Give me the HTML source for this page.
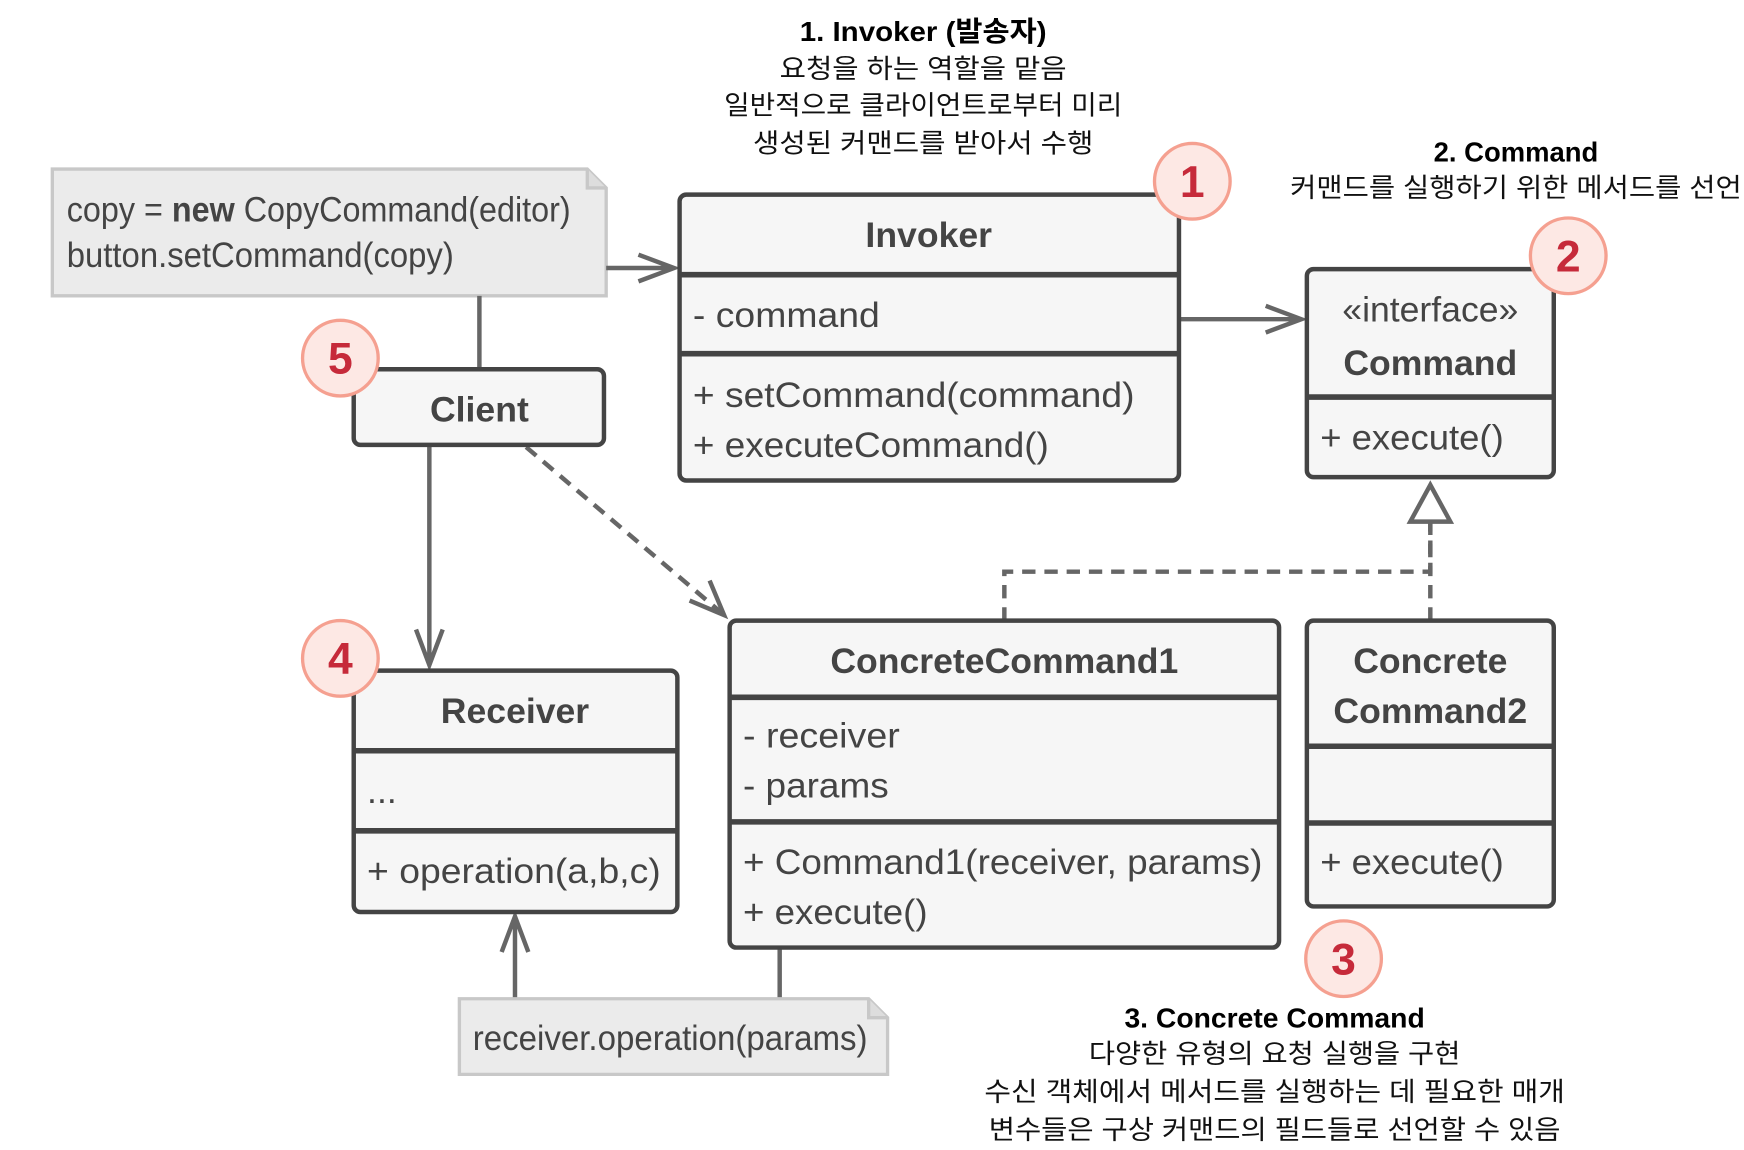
<!DOCTYPE html>
<html><head><meta charset="utf-8"><style>
html,body{margin:0;padding:0;background:#fff;width:1744px;height:1150px;overflow:hidden}
svg{display:block}
.t{font-family:"Liberation Sans Narrow","Liberation Sans",sans-serif;fill:#444;font-size:32px}
.b{font-weight:bold}
.k{font-family:"Liberation Sans","Noto Sans CJK KR",sans-serif;fill:#111;font-size:24px;text-anchor:middle}
.h{font-family:"Liberation Sans","Noto Sans CJK KR",sans-serif;fill:#000;font-size:25px;font-weight:bold;text-anchor:middle}
.box{fill:#f6f6f6;stroke:#444;stroke-width:4}
.sep{stroke:#444;stroke-width:5}
.ln{stroke:#666;stroke-width:4;fill:none}
.num{font-family:"Liberation Sans",sans-serif;font-weight:bold;font-size:40px;fill:#c62a3a;text-anchor:middle}
</style></head><body>
<svg width="1744" height="1150" viewBox="0 0 1568 1034" xmlns="http://www.w3.org/2000/svg">
<!-- top annotations -->
<text class="h" x="830" y="37" textLength="222" lengthAdjust="spacingAndGlyphs">1. Invoker (발송자)</text>
<text class="k" x="830" y="70" textLength="258" lengthAdjust="spacingAndGlyphs">요청을 하는 역할을 맡음</text>
<text class="k" x="830" y="103" textLength="358" lengthAdjust="spacingAndGlyphs">일반적으로 클라이언트로부터 미리</text>
<text class="k" x="830" y="137" textLength="306" lengthAdjust="spacingAndGlyphs">생성된 커맨드를 받아서 수행</text>
<text class="h" x="1363" y="145" textLength="148" lengthAdjust="spacingAndGlyphs">2. Command</text>
<text class="k" x="1363" y="177" textLength="406" lengthAdjust="spacingAndGlyphs">커맨드를 실행하기 위한 메서드를 선언</text>

<!-- note 1 -->
<path d="M47 152 H528 L545 169 V266 H47 Z" fill="#ebebeb" stroke="#c8c8c8" stroke-width="3"/>
<path d="M528 152 V169 H545" fill="#ddd" stroke="#c8c8c8" stroke-width="3"/>
<text class="t" x="60" y="199" font-size="30" textLength="453" lengthAdjust="spacingAndGlyphs">copy = <tspan class="b">new</tspan> CopyCommand(editor)</text>
<text class="t" x="60" y="240" font-size="30" textLength="348" lengthAdjust="spacingAndGlyphs">button.setCommand(copy)</text>

<!-- connectors -->
<path class="ln" d="M545 241 H606 M574 229 L606 241 L574 253"/>
<path class="ln" d="M1060 287 H1170 M1138 275 L1170 287 L1138 299"/>
<path class="ln" d="M431 266 V332"/>
<path class="ln" d="M386 400 V598 M374 566 L386 598 L398 566"/>
<path class="ln" d="M473 402 L651 553" stroke-dasharray="12 8"/>
<path class="ln" d="M620 540 L651 553 L638 522"/>
<path class="ln" d="M903 558 V514 H1286 V470" stroke-dasharray="12 8"/>
<path d="M1286 436 L1268 469 H1304 Z" fill="#fff" stroke="#666" stroke-width="4"/>
<path class="ln" d="M1286 558 V470" stroke-dasharray="12 8"/>
<path class="ln" d="M701 852 V898"/>
<path class="ln" d="M463 898 V824 M451 856 L463 824 L475 856"/>

<!-- Invoker -->
<rect class="box" x="611" y="175" width="449" height="257" rx="6"/>
<line class="sep" x1="611" y1="247" x2="1060" y2="247"/>
<line class="sep" x1="611" y1="318" x2="1060" y2="318"/>
<text class="t b" x="835" y="222" text-anchor="middle">Invoker</text>
<text class="t" x="623" y="294" textLength="168" lengthAdjust="spacingAndGlyphs">- command</text>
<text class="t" x="623" y="366" textLength="397" lengthAdjust="spacingAndGlyphs">+ setCommand(command)</text>
<text class="t" x="623" y="411" textLength="320" lengthAdjust="spacingAndGlyphs">+ executeCommand()</text>

<!-- Command -->
<rect class="box" x="1175" y="242" width="222" height="187" rx="6"/>
<line class="sep" x1="1175" y1="357" x2="1397" y2="357"/>
<text class="t" x="1286" y="289" text-anchor="middle">«interface»</text>
<text class="t b" x="1286" y="337" text-anchor="middle">Command</text>
<text class="t" x="1187" y="404" textLength="165" lengthAdjust="spacingAndGlyphs">+ execute()</text>

<!-- Client -->
<rect class="box" x="318" y="332" width="225" height="68" rx="6"/>
<text class="t b" x="431" y="379" text-anchor="middle">Client</text>

<!-- Receiver -->
<rect class="box" x="318" y="603" width="291" height="217" rx="6"/>
<line class="sep" x1="318" y1="675" x2="609" y2="675"/>
<line class="sep" x1="318" y1="747" x2="609" y2="747"/>
<text class="t b" x="463" y="650" text-anchor="middle">Receiver</text>
<text class="t" x="330" y="722">...</text>
<text class="t" x="330" y="794" textLength="264" lengthAdjust="spacingAndGlyphs">+ operation(a,b,c)</text>

<!-- ConcreteCommand1 -->
<rect class="box" x="656" y="558" width="494" height="294" rx="6"/>
<line class="sep" x1="656" y1="627" x2="1150" y2="627"/>
<line class="sep" x1="656" y1="739" x2="1150" y2="739"/>
<text class="t b" x="903" y="605" text-anchor="middle">ConcreteCommand1</text>
<text class="t" x="668" y="672" textLength="141" lengthAdjust="spacingAndGlyphs">- receiver</text>
<text class="t" x="668" y="717" textLength="131" lengthAdjust="spacingAndGlyphs">- params</text>
<text class="t" x="668" y="786" textLength="467" lengthAdjust="spacingAndGlyphs">+ Command1(receiver, params)</text>
<text class="t" x="668" y="831" textLength="166" lengthAdjust="spacingAndGlyphs">+ execute()</text>

<!-- ConcreteCommand2 -->
<rect class="box" x="1175" y="558" width="222" height="257" rx="6"/>
<line class="sep" x1="1175" y1="671" x2="1397" y2="671"/>
<line class="sep" x1="1175" y1="740" x2="1397" y2="740"/>
<text class="t b" x="1286" y="605" text-anchor="middle">Concrete</text>
<text class="t b" x="1286" y="650" text-anchor="middle">Command2</text>
<text class="t" x="1187" y="786" textLength="165" lengthAdjust="spacingAndGlyphs">+ execute()</text>

<!-- note 2 -->
<path d="M413 898 H781 L798 915 V966 H413 Z" fill="#ebebeb" stroke="#c8c8c8" stroke-width="3"/>
<path d="M781 898 V915 H798" fill="#ddd" stroke="#c8c8c8" stroke-width="3"/>
<text class="t" x="425" y="944" font-size="30" textLength="355" lengthAdjust="spacingAndGlyphs">receiver.operation(params)</text>

<!-- badges -->
<g stroke="#f5a090" stroke-width="3" fill="#fde8e4">
<circle cx="1072" cy="163" r="34"/><circle cx="1410" cy="230" r="34"/>
<circle cx="306" cy="322" r="34"/><circle cx="306" cy="592" r="34"/>
<circle cx="1208" cy="862" r="34"/></g>
<text class="num" x="1072" y="177">1</text>
<text class="num" x="1410" y="244">2</text>
<text class="num" x="306" y="336">5</text>
<text class="num" x="306" y="606">4</text>
<text class="num" x="1208" y="876">3</text>

<!-- bottom annotation -->
<text class="h" x="1146" y="924" textLength="270" lengthAdjust="spacingAndGlyphs">3. Concrete Command</text>
<text class="k" x="1146" y="956" textLength="334" lengthAdjust="spacingAndGlyphs">다양한 유형의 요청 실행을 구현</text>
<text class="k" x="1146" y="990" textLength="522" lengthAdjust="spacingAndGlyphs">수신 객체에서 메서드를 실행하는 데 필요한 매개</text>
<text class="k" x="1146" y="1024" textLength="514" lengthAdjust="spacingAndGlyphs">변수들은 구상 커맨드의 필드들로 선언할 수 있음</text>
</svg>
</body></html>
